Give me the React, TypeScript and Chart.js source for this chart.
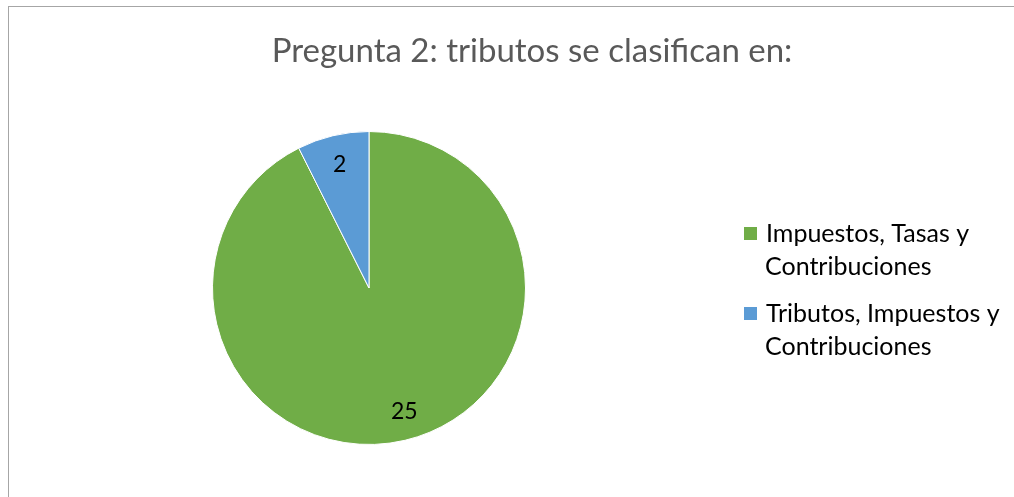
import React, { useEffect, useRef } from "react";
import { Chart, registerables } from "chart.js";

Chart.register(...registerables);

const titleText = "Pregunta 2: tributos se clasifican en:";
const categories = ["Impuestos, Tasas y Contribuciones", "Tributos, Impuestos y Contribuciones"];
const legendLines = [
  ["Impuestos, Tasas y", "Contribuciones"],
  ["Tributos, Impuestos y", "Contribuciones"],
];
const values = [25, 2];
const colors = ["#70AD47", "#5B9BD5"];

const FONT = "Lato, 'Open Sans', sans-serif";

const overlayPlugin = {
  id: "overlay",
  afterDraw(chart: any) {
    const ctx = chart.ctx;
    ctx.save();
    // title
    ctx.fillStyle = "#595959";
    ctx.font = `33px ${FONT}`;
    ctx.textAlign = "center";
    ctx.textBaseline = "alphabetic";
    ctx.fillText(titleText, 532, 62);

    // data labels
    const meta = chart.getDatasetMeta(0);
    ctx.fillStyle = "#000000";
    ctx.font = `23px ${FONT}`;
    ctx.textBaseline = "middle";
    meta.data.forEach((arc: any, i: number) => {
      const p = arc.getProps(["x", "y", "startAngle", "endAngle", "outerRadius"], true);
      const mid = (p.startAngle + p.endAngle) / 2;
      const r = p.outerRadius * 0.81;
      ctx.fillText(String(values[i]), p.x + Math.cos(mid) * r + (i === 0 ? 6 : 0), p.y + Math.sin(mid) * r);
    });

    // legend
    ctx.textAlign = "left";
    ctx.textBaseline = "alphabetic";
    ctx.font = `25px ${FONT}`;
    const tops = [227, 307];
    legendLines.forEach((lines, i) => {
      ctx.fillStyle = colors[i];
      ctx.fillRect(744, tops[i], 13, 13);
      ctx.fillStyle = "#000000";
      lines.forEach((ln, j) => {
        ctx.fillText(ln, j === 0 ? 766 : 765, tops[i] + 15 + j * 33);
      });
    });
    ctx.restore();
  },
};

export default function App() {
  const ref = useRef<HTMLCanvasElement>(null);
  useEffect(() => {
    if (!ref.current) return;
    const chart = new Chart(ref.current, {
      type: "pie",
      data: {
        labels: categories,
        datasets: [
          {
            data: values,
            backgroundColor: colors,
            borderColor: "#FFFFFF",
            borderWidth: 1,
          },
        ],
      },
      options: {
        responsive: false,
        animation: false,
        layout: { padding: { left: 212, right: 488, top: 131, bottom: 52 } },
        plugins: {
          legend: { display: false },
          title: { display: false },
          tooltip: { enabled: false },
        },
      },
      plugins: [overlayPlugin],
    });
    return () => chart.destroy();
  }, []);
  return (
    <div style={{ position: "fixed", left: 0, top: 0, width: 1014, height: 497, background: "#fff", overflow: "hidden" }}>
      <div
        style={{
          position: "absolute",
          left: 8,
          top: 6,
          width: 1100,
          height: 600,
          border: "1px solid #A6A6A6",
        }}
      />
      <canvas ref={ref} width={1014} height={497} style={{ position: "absolute", left: 0, top: 0, display: "block" }} />
    </div>
  );
}
